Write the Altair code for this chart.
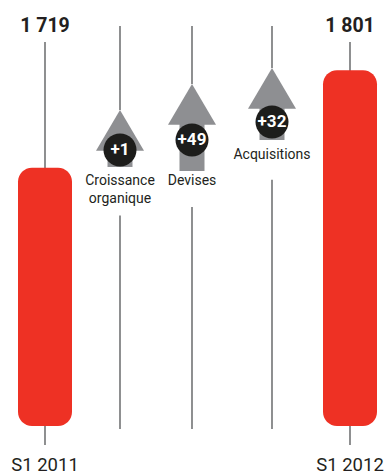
import altair as alt
import pandas as pd

# ---- data -------------------------------------------------------------
columns = ["S1 2011", "Croissance organique", "Devises", "Acquisitions", "S1 2012"]

total_names = ["S1 2011", "S1 2012"]
total_values = [1719, 1801]
total_texts = ["1 719", "1 801"]

step_names = ["Croissance organique", "Devises", "Acquisitions"]
step_values = [1, 49, 32]
step_texts = ["+1", "+49", "+32"]
step_label_lines = [["Croissance", "organique"], ["Devises"], ["Acquisitions"]]

# schematic levels (in the chart's value units)
axis_floor = 1502
arrow_tip = [1767.6, 1789.4, 1802.9]
arrow_shaft_top = [1740, 1758, 1776]
arrow_base = [1719.7, 1716.3, 1742.4]
badge_level = [1734, 1742.4, 1757.5]
label_levels = [[1707.9, 1692.8], [1707.9], [1729.7]]
total_line_top = 1824.7
total_line_bottom = 1486
step_line_top = 1838.2
step_line_resume = [1679, 1686, 1709]
step_line_bottom = 1499.5
value_label_level = 1838.2
name_label_level = 1469

# ---- tables -----------------------------------------------------------
totals = pd.DataFrame({
    "idx": [columns.index(n) for n in total_names],
    "name": total_names,
    "value": total_values,
    "text": total_texts,
    "floor": [axis_floor] * len(total_names),
    "ltop": [total_line_top] * len(total_names),
    "lbot": [total_line_bottom] * len(total_names),
    "vlab": [value_label_level] * len(total_names),
    "nlab": [name_label_level] * len(total_names),
})

steps = pd.DataFrame({
    "idx": [columns.index(n) for n in step_names],
    "delta": step_values,
    "text": step_texts,
    "tip": arrow_tip,
    "shaft_top": arrow_shaft_top,
    "base": arrow_base,
    "badge": badge_level,
})

seg_rows = []
for i, n in enumerate(step_names):
    k = columns.index(n)
    seg_rows.append({"idx": k, "top": step_line_top, "bot": arrow_tip[i]})
    seg_rows.append({"idx": k, "top": step_line_resume[i], "bot": step_line_bottom})
segs = pd.DataFrame(seg_rows)

lab_rows = []
for i, n in enumerate(step_names):
    for line, lv in zip(step_label_lines[i], label_levels[i]):
        lab_rows.append({"idx": columns.index(n), "line": line, "lv": lv})
labels = pd.DataFrame(lab_rows)

# ---- styling ------------------------------------------------------------
RED = "#ee3124"
GRAY = "#8e8f92"
LINE = "#5f6062"
INK = "#231f20"
FONT = "Roboto"

xs = alt.Scale(domain=[0, 1, 2, 3, 4], range=[45, 120, 192, 272, 350],
               nice=False, zero=False, padding=0)
ys = alt.Scale(domain=[1460, 1860], nice=False, zero=False, padding=0)

X = alt.X("idx:Q", scale=xs, axis=None)

def Y(f):
    return alt.Y(f + ":Q", scale=ys, axis=None)

total_lines = alt.Chart(totals).mark_rule(color=LINE, strokeWidth=1.4).encode(
    x=X, y=Y("ltop"), y2="lbot:Q")

step_lines = alt.Chart(segs).mark_rule(color=LINE, strokeWidth=1.4).encode(
    x=X, y=Y("top"), y2="bot:Q")

bars = alt.Chart(totals).mark_bar(color=RED, size=54, cornerRadius=14).encode(
    x=X, y=Y("value"), y2="floor:Q")

shafts = alt.Chart(steps).mark_bar(color=GRAY, size=25).encode(
    x=X, y=Y("base"), y2="shaft_top:Q")

heads = alt.Chart(steps).mark_point(
    shape="M0,0L1,1.7L-1,1.7Z", size=2304, filled=True, color=GRAY,
    opacity=1, strokeWidth=0).encode(x=X, y=Y("tip"))

badges = alt.Chart(steps).mark_point(
    shape="circle", size=1089, filled=True, color="#1d1d1b", opacity=1,
    strokeWidth=0).encode(x=X, y=Y("badge"))

badge_text = alt.Chart(steps).mark_text(
    font=FONT, fontSize=17, fontWeight="bold", color="white",
    baseline="middle", align="center").encode(x=X, y=Y("badge"), text="text:N")

step_labels = alt.Chart(labels).mark_text(
    font=FONT, fontSize=14, color=INK, baseline="middle", align="center").encode(
    x=X, y=Y("lv"), text="line:N")

value_labels = alt.Chart(totals).mark_text(
    font=FONT, fontSize=19.5, fontWeight="bold", color=INK,
    baseline="middle", align="center").encode(x=X, y=Y("vlab"), text="text:N")

name_labels = alt.Chart(totals).mark_text(
    font=FONT, fontSize=18.5, color=INK, baseline="middle", align="center").encode(
    x=X, y=Y("nlab"), text="name:N")

chart = alt.layer(
    total_lines, step_lines, bars, shafts, heads, badges, badge_text,
    step_labels, value_labels, name_labels
).properties(
    width=384, height=476, autosize=alt.AutoSizeParams(type="none"), padding=0,
    background="white"
).configure_view(stroke=None)

chart.save("out.html", embed_options={"renderer": "svg", "actions": False})
